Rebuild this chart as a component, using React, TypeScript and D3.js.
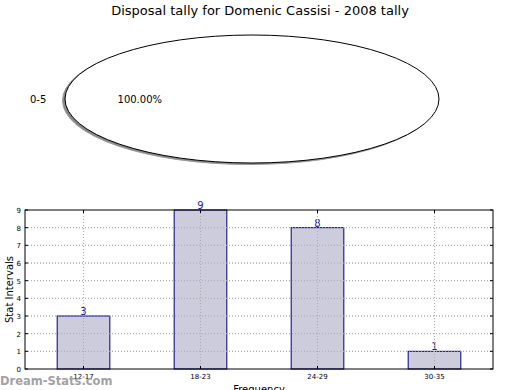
import React from "react";
import * as d3 from "d3";

const title = "Disposal tally for Domenic Cassisi - 2008 tally";
const pieLabels = ["0-5"];
const pieValues = [1];
const barCategories = ["12-17", "18-23", "24-29", "30-35"];
const barValues = [3, 9, 8, 1];
const yTicks = [0, 1, 2, 3, 4, 5, 6, 7, 8, 9];

const W = 520;
const H = 390;
const font = "DejaVu Sans, sans-serif";

const App = () => {
  // pie (drawn as circle then squashed into an ellipse)
  const cx = 252;
  const cy = 99;
  const rx = 187;
  const ry = 64;
  const pie = d3.pie<number>().sort(null).startAngle(-1.5 * Math.PI).endAngle(0.5 * Math.PI)(pieValues);
  const arc = d3.arc<d3.PieArcDatum<number>>().innerRadius(0).outerRadius(rx);
  const total = d3.sum(pieValues);

  // bars
  const m = { left: 25, right: 493, top: 210, bottom: 369 };
  const x = d3.scaleBand().domain(barCategories).range([m.left, m.right]).paddingInner(0.55).paddingOuter(0.275);
  const y = d3.scaleLinear().domain([0, 9]).range([m.bottom, m.top]);
  const xc = (c: string) => (x(c) as number) + x.bandwidth() / 2;

  const grid = (k: string) => (
    <g>
      {yTicks.slice(1, -1).map((t) => (
        <line key={k + "gy" + t} x1={m.left} x2={m.right} y1={y(t)} y2={y(t)} stroke="#aaa" strokeWidth={1} strokeDasharray="1,2" />
      ))}
      {barCategories.map((c) => (
        <line key={k + "gx" + c} x1={xc(c)} x2={xc(c)} y1={m.top} y2={m.bottom} stroke="#aaa" strokeWidth={1} strokeDasharray="1,2" />
      ))}
    </g>
  );

  return (
    <svg width={W} height={H} style={{ position: "absolute", left: 0, top: 0, background: "#fff" }}>
      <rect width={W} height={H} fill="#fff" />
      <text x={260} y={15} textAnchor="middle" fontFamily={font} fontSize={13}>{title}</text>

      {pie.map((d, i) => {
        const mid = (d.startAngle + d.endAngle) / 2;
        const lx = cx + Math.sin(mid) * rx * 1.1;
        const ly = cy - Math.cos(mid) * ry * 1.1;
        const px = cx + Math.sin(mid) * rx * 0.6;
        const py = cy - Math.cos(mid) * ry * 0.6;
        const full = d.endAngle - d.startAngle >= 2 * Math.PI - 1e-6;
        return (
          <g key={i}>
            {full ? (
              <>
                <ellipse cx={cx - 2.5} cy={cy + 1.5} rx={rx} ry={ry} fill="#888" stroke="#999" strokeWidth={1} />
                <ellipse cx={cx} cy={cy} rx={rx} ry={ry} fill="#fff" stroke="#000" strokeWidth={1} />
              </>
            ) : (
              <g transform={`translate(${cx},${cy}) scale(1,${ry / rx})`}>
                <path d={arc(d) || ""} fill="#fff" stroke="#000" vectorEffect="non-scaling-stroke" />
              </g>
            )}
            <text x={lx} y={ly + 4} textAnchor={Math.sin(mid) < 0 ? "end" : "start"} fontFamily={font} fontSize={10}>
              {pieLabels[i]}
            </text>
            <text x={px} y={py + 4} textAnchor="middle" fontFamily={font} fontSize={10}>
              {((d.data / total) * 100).toFixed(2)}%
            </text>
          </g>
        );
      })}

      {grid("a")}
      {barCategories.map((c, i) => (
        <g key={c}>
          <rect x={x(c)} y={y(barValues[i])} width={x.bandwidth()} height={m.bottom - y(barValues[i])} fill="#ccd" stroke="#000080" strokeWidth={1} />
          <text x={xc(c)} y={y(barValues[i]) - 1} textAnchor="middle" fontFamily={font} fontSize={10} fill="#1a1a9a">
            {barValues[i]}
          </text>
        </g>
      ))}
      {grid("b")}

      <rect x={m.left} y={m.top} width={m.right - m.left} height={m.bottom - m.top} fill="none" stroke="#000" strokeWidth={1} />

      {yTicks.map((t) => (
        <g key={"yt" + t}>
          <line x1={m.left} x2={m.left + 3} y1={y(t)} y2={y(t)} stroke="#000" />
          <line x1={m.right - 3} x2={m.right} y1={y(t)} y2={y(t)} stroke="#000" />
          <text x={m.left - 4} y={y(t) + 3} textAnchor="end" fontFamily={font} fontSize={7}>{t}</text>
        </g>
      ))}
      {barCategories.map((c) => (
        <g key={"xt" + c}>
          <line x1={xc(c)} x2={xc(c)} y1={m.bottom} y2={m.bottom - 3} stroke="#000" />
          <line x1={xc(c)} x2={xc(c)} y1={m.top} y2={m.top + 3} stroke="#000" />
          <text x={xc(c)} y={m.bottom + 10} textAnchor="middle" fontFamily={font} fontSize={7}>{c}</text>
        </g>
      ))}

      <text transform={`translate(13,${(m.top + m.bottom) / 2}) rotate(-90)`} textAnchor="middle" fontFamily={font} fontSize={10}>
        Stat Intervals
      </text>
      <text x={259} y={393} textAnchor="middle" fontFamily={font} fontSize={10}>Frequency</text>
      <text x={0} y={385} fontFamily={font} fontSize={11.5} fontWeight="bold" fill="#999" opacity={0.9}>Dream-Stats.com</text>
    </svg>
  );
};

export default App;
